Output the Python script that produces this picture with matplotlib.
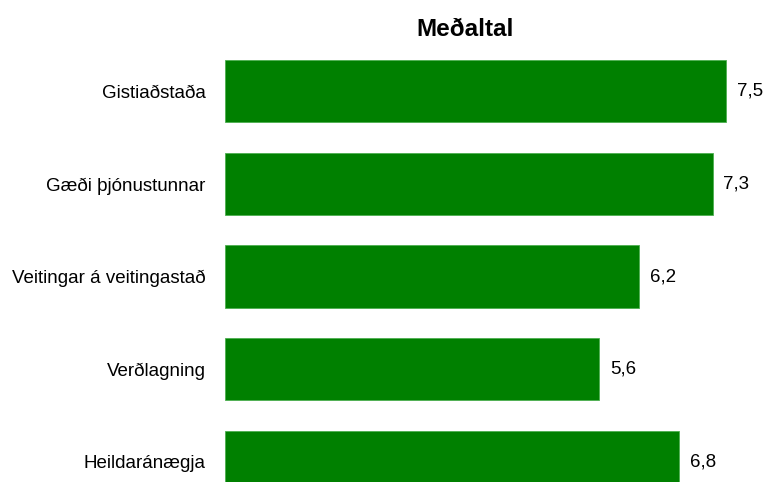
import matplotlib.pyplot as plt
import numpy as np

plt.rcParams['font.family'] = ['Liberation Sans Narrow', 'Liberation Sans', 'DejaVu Sans']

categories = ["Gistiaðstaða", "Gæði þjónustunnar", "Veitingar á veitingastað",
              "Verðlagning", "Heildaránægja"]
values = [7.5, 7.3, 6.2, 5.6, 6.8]
value_labels = ["7,5", "7,3", "6,2", "5,6", "6,8"]

W, H = 766, 482
fig = plt.figure(figsize=(W / 100, H / 100), dpi=100)

# axes placed in pixel coords; bottom bar is cut off by the figure edge
left, right = 225, 766
top, bottom = 45, 508
ax = fig.add_axes([left / W, 1 - bottom / H, (right - left) / W, (bottom - top) / H])

y = np.arange(len(categories))
ax.barh(y, values, height=0.67, color='#008000', edgecolor='#4caf50', linewidth=0.6)
ax.set_ylim(len(categories) - 0.5, -0.5)
ax.set_xlim(0, 8.1)

for yi, v, lab in zip(y, values, value_labels):
    ax.text(v + 0.16, yi, lab, va='center', ha='left', fontsize=13.5)

ax.set_yticks(y)
ax.set_yticklabels(categories, fontsize=13.5)
ax.tick_params(axis='y', length=0, pad=14)
ax.set_xticks([])
for s in ax.spines.values():
    s.set_visible(False)

fig.text(465 / W, 1 - 30 / H, "Meðaltal", ha='center', va='center',
         fontsize=17.5, fontweight='bold')

fig.savefig("out.png", dpi=100)
